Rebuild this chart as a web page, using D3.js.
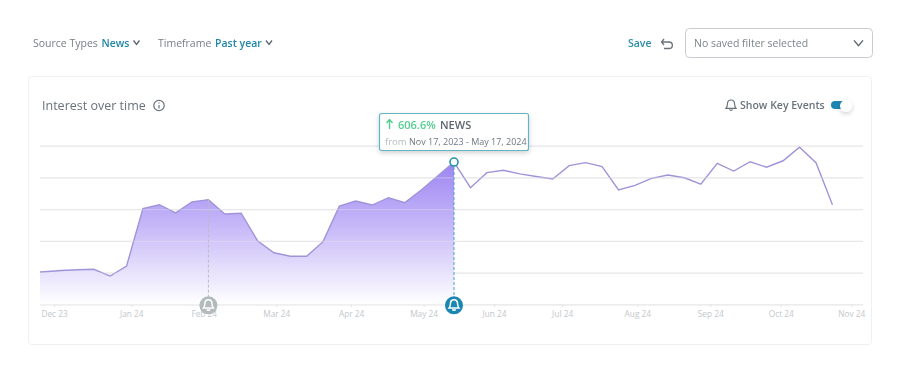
<!DOCTYPE html>
<html>
<head>
<meta charset="utf-8">
<script src="https://cdn.jsdelivr.net/npm/d3@7"></script>
<style>
    html, body { margin: 0; padding: 0; background: #fff; }
    svg { display: block; font-family: "Open Sans", sans-serif; }
    .axis path { display: none; }
    .axis line { stroke: #e3e5e8; }
    .axis text { fill: #c3c7cb; font-size: 8.3px; font-family: "Open Sans", sans-serif; }
    .grid line { stroke: #e9e9ec; stroke-width: 1.3; }
    .grid path { display: none; }
</style>
</head>
<body>
<div id="chart"></div>
<script>
// weekly points, friday to friday
let weekDates = ["2023-11-17", "2023-11-24", "2023-12-01", "2023-12-08", "2023-12-15", "2023-12-22", "2023-12-29",
    "2024-01-05", "2024-01-12", "2024-01-19", "2024-01-26", "2024-02-02", "2024-02-09", "2024-02-16", "2024-02-23",
    "2024-03-01", "2024-03-08", "2024-03-15", "2024-03-22", "2024-03-29", "2024-04-05", "2024-04-12", "2024-04-19",
    "2024-04-26", "2024-05-03", "2024-05-10", "2024-05-17", "2024-05-24", "2024-05-31", "2024-06-07", "2024-06-14",
    "2024-06-21", "2024-06-28", "2024-07-05", "2024-07-12", "2024-07-19", "2024-07-26", "2024-08-02", "2024-08-09",
    "2024-08-16", "2024-08-23", "2024-08-30", "2024-09-06", "2024-09-13", "2024-09-20", "2024-09-27", "2024-10-04",
    "2024-10-11", "2024-10-18", "2024-10-25"];
let interest = [19.9, 20.5, 21.3, 21.8, 22.1, 17.8, 24.1, 60.3, 62.8, 57.6, 64.5, 66, 56.9, 57.4, 40.1, 32.5, 30.3,
    30.3, 39.5, 62, 65.1, 62.6, 67.2, 64.1, 72.1, 80.9, 89.7, 73.5, 83, 84.5, 82.2, 80.6, 79, 87.4, 89.3, 86.8, 72.1,
    75, 79.4, 81.5, 79.8, 75.7, 88.9, 84, 89.9, 86.4, 90.5, 99, 89.3, 62.8];
let tickDates = ["2023-11-28", "2023-12-31", "2024-01-31", "2024-03-02", "2024-04-03", "2024-05-04", "2024-06-03",
    "2024-07-02", "2024-08-03", "2024-09-03", "2024-10-03", "2024-11-02"];
let tickLabels = ["Dec 23", "Jan 24", "Feb 24", "Mar 24", "Apr 24", "May 24", "Jun 24", "Jul 24", "Aug 24", "Sep 24",
    "Oct 24", "Nov 24"];
let gridValues = [0, 20, 40, 60, 80, 100];
let selectedDate = "2024-05-17";
let keyEventDate = "2024-02-02";

const width = 900, height = 373;
const parseDate = d3.utcParse("%Y-%m-%d");
const bellPath = "M0,-5.5 C-2.6,-5.5 -3.6,-3.4 -3.6,-1.2 C-3.6,1 -4.2,1.8 -5,2.8 L5,2.8 C4.2,1.8 3.6,1 3.6,-1.2 C3.6,-3.4 2.6,-5.5 0,-5.5 Z M-1.5,3.9 C-1.1,5.2 1.1,5.2 1.5,3.9";

let data = weekDates.map((d, i) => ({date: parseDate(d), value: interest[i]}));
let selected = data.find((d) => +d.date === +parseDate(selectedDate));

let svg = d3.select("#chart")
    .append("svg")
    .attr("width", width)
    .attr("height", height);

let defs = svg.append("defs");
let grad = defs.append("linearGradient")
    .attr("id", "areaFill")
    .attr("x1", 0).attr("x2", 0).attr("y1", 0).attr("y2", 1);
grad.append("stop").attr("offset", "0%").attr("stop-color", "#9d84f2");
grad.append("stop").attr("offset", "45%").attr("stop-color", "#c6b8f8");
grad.append("stop").attr("offset", "100%").attr("stop-color", "#ffffff");

let shadow = defs.append("filter").attr("id", "soft")
    .attr("x", "-20%").attr("y", "-30%").attr("width", "140%").attr("height", "170%");
shadow.append("feDropShadow")
    .attr("dx", 0).attr("dy", 2).attr("stdDeviation", 2.5)
    .attr("flood-color", "#000").attr("flood-opacity", 0.18);

defs.append("clipPath").attr("id", "plotClip")
    .append("rect").attr("x", 40).attr("y", 100).attr("width", 824).attr("height", 210);

// card
svg.append("rect")
    .attr("x", 28.5).attr("y", 76.5).attr("width", 843).attr("height", 268).attr("rx", 3)
    .attr("fill", "#fff").attr("stroke", "#eef0f2");

// scales
let xScale = d3.scaleUtc()
    .domain([parseDate("2023-11-22"), parseDate(selectedDate), parseDate("2024-11-07")])
    .range([40, 454, 863]);
let yScale = d3.scaleLinear()
    .domain([0, 100])
    .range([304.3, 145.7]);

let yGrid = d3.axisLeft(yScale)
    .tickValues(gridValues)
    .tickSize(-823)
    .tickFormat("");
svg.append("g")
    .attr("class", "grid")
    .attr("transform", "translate(40,0)")
    .call(yGrid);

let xAxis = d3.axisBottom(xScale)
    .tickValues(tickDates.map(parseDate))
    .tickSize(3)
    .tickSizeOuter(0)
    .tickPadding(4)
    .tickFormat((d, i) => tickLabels[i]);
svg.append("g")
    .attr("class", "axis")
    .attr("transform", "translate(0,304.3)")
    .call(xAxis);

let area = d3.area()
    .x((d) => xScale(d.date))
    .y0(yScale(0))
    .y1((d) => yScale(d.value));
let line = d3.line()
    .x((d) => xScale(d.date))
    .y((d) => yScale(d.value));

let plot = svg.append("g").attr("clip-path", "url(#plotClip)");
plot.append("path")
    .datum(data.filter((d) => d.date <= selected.date))
    .attr("fill", "url(#areaFill)")
    .attr("d", area);
plot.append("path")
    .datum(data)
    .attr("fill", "none")
    .attr("stroke", "#a094d8")
    .attr("stroke-width", 1.4)
    .attr("d", line);

// grid stays faintly visible through the fill
svg.append("g")
    .attr("class", "grid")
    .attr("transform", "translate(40,0)")
    .attr("opacity", 0.35)
    .call(yGrid);

// key event markers
function marker(date, topValue, color, lineColor) {
    let x = xScale(date);
    svg.append("line")
        .attr("x1", x).attr("x2", x)
        .attr("y1", yScale(topValue)).attr("y2", yScale(0) - 6)
        .attr("stroke", lineColor)
        .attr("stroke-width", 1)
        .attr("stroke-dasharray", "3,2");
    svg.append("circle")
        .attr("cx", x).attr("cy", yScale(0) + 1).attr("r", 9)
        .attr("fill", color);
    svg.append("path")
        .attr("transform", "translate(" + x + "," + (yScale(0) + 1) + ")")
        .attr("d", bellPath)
        .attr("fill", "none")
        .attr("stroke", "#fff")
        .attr("stroke-width", 1.5);
}
marker(parseDate(keyEventDate), interest[weekDates.indexOf(keyEventDate)], "#b3babb", "#b9bcc4");
marker(selected.date, selected.value, "#1c86b3", "#45a6c4");

svg.append("circle")
    .attr("cx", xScale(selected.date))
    .attr("cy", yScale(selected.value))
    .attr("r", 4)
    .attr("fill", "#fff")
    .attr("stroke", "#2291a8")
    .attr("stroke-width", 1.6);

// tooltip
let tip = svg.append("g").attr("transform", "translate(379,113)");
tip.append("rect")
    .attr("x", 0.5).attr("y", 0.5).attr("width", 149).attr("height", 37).attr("rx", 2)
    .attr("fill", "#fff")
    .attr("stroke", "#62b4c2")
    .attr("stroke-width", 1.2)
    .attr("filter", "url(#soft)");
tip.append("path")
    .attr("d", "M10.5,16 V7 M7.5,10 L10.5,6.5 L13.5,10")
    .attr("fill", "none").attr("stroke", "#4fcf8e").attr("stroke-width", 1.4);
tip.append("text").attr("x", 19).attr("y", 15.5)
    .attr("font-size", 11).attr("font-weight", 600).attr("fill", "#55cf92").text("606.6%");
tip.append("text").attr("x", 61).attr("y", 15.5)
    .attr("font-size", 11).attr("font-weight", 600).attr("fill", "#5c6570").text("NEWS");
tip.append("text").attr("x", 6).attr("y", 32)
    .attr("font-size", 9.5).attr("fill", "#b5bac0").text("from");
tip.append("text").attr("x", 30).attr("y", 32)
    .attr("font-size", 9).attr("fill", "#6f7780").text("Nov 17, 2023 - May 17, 2024");

// filter bar
function label(x, y, txt, size, color, weight) {
    return svg.append("text")
        .attr("x", x).attr("y", y)
        .attr("font-size", size)
        .attr("fill", color)
        .attr("font-weight", weight || 400)
        .text(txt);
}
function chevron(x, y, w, h, color, sw) {
    svg.append("path")
        .attr("d", "M" + (x - w) + "," + (y - h) + " L" + x + "," + (y + h) + " L" + (x + w) + "," + (y - h))
        .attr("fill", "none")
        .attr("stroke", color)
        .attr("stroke-width", sw);
}
label(33, 47, "Source Types", 10.5, "#767e86");
label(101.5, 47, "News", 10.5, "#1f87a8", 600);
chevron(136.5, 42.5, 3, 2, "#5c6570", 1.3);
label(158, 47, "Timeframe", 10.5, "#767e86");
label(215, 47, "Past year", 10.5, "#1f87a8", 600);
chevron(269, 42.5, 3, 2, "#5c6570", 1.3);

label(628, 47, "Save", 10.5, "#2a8fb0", 600);
svg.append("path")
    .attr("d", "M664,39 L661.5,42 L664,45 M662,42 H669 C673.5,42 673.5,48.5 669,48.5 H664")
    .attr("fill", "none").attr("stroke", "#6a727a").attr("stroke-width", 1.3);
svg.append("rect")
    .attr("x", 685.5).attr("y", 28.5).attr("width", 187).attr("height", 29).attr("rx", 4)
    .attr("fill", "#fff").attr("stroke", "#c9cdd1");
label(694, 47, "No saved filter selected", 10.5, "#7c848b");
chevron(858.5, 43, 4.5, 2.6, "#5c6570", 1.4);

// card header
label(42, 110, "Interest over time", 12.5, "#6a727a");
svg.append("circle").attr("cx", 159).attr("cy", 105.5).attr("r", 5.2)
    .attr("fill", "none").attr("stroke", "#6a727a").attr("stroke-width", 1.2);
svg.append("path").attr("d", "M159,105 V108.5 M159,102.4 V103.6")
    .attr("stroke", "#6a727a").attr("stroke-width", 1.2);

svg.append("path")
    .attr("transform", "translate(731,105.5)")
    .attr("d", bellPath)
    .attr("fill", "none").attr("stroke", "#6a727a").attr("stroke-width", 1.2);
label(740, 109, "Show Key Events", 10.5, "#6a727a", 600);
svg.append("rect")
    .attr("x", 831).attr("y", 101).attr("width", 18).attr("height", 8).attr("rx", 4)
    .attr("fill", "#1c86b3");
svg.append("circle")
    .attr("cx", 846).attr("cy", 106).attr("r", 6)
    .attr("fill", "#fff").attr("filter", "url(#soft)");
</script>
</body>
</html>
